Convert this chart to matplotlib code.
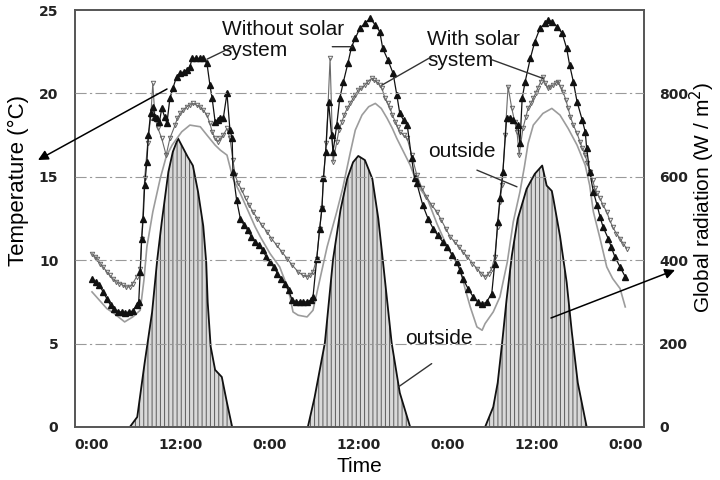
import matplotlib
matplotlib.use("Agg")
import matplotlib.pyplot as plt

# ---------------- data (hours from start) -------------
hours_without = [0.0, 0.5, 1.0, 1.5, 2.0, 2.5, 3.0, 3.5, 4.0, 4.5, 5.0, 5.5, 6.0, 6.3, 6.5, 6.7,
                 6.9, 7.1, 7.4, 7.6, 7.9, 8.2, 8.5, 8.8, 9.1, 9.4, 9.8, 10.1, 10.5, 10.9, 11.4,
                 11.9, 12.4, 12.8, 13.2, 13.5, 14.0, 14.5, 15.0, 15.5, 15.9, 16.2, 16.6, 17.0,
                 17.3, 17.7, 18.2, 18.6, 18.9, 19.0, 19.5, 20.0, 20.5, 21.0, 21.5, 22.0, 22.5,
                 23.0, 23.5, 24.0, 24.5, 25.0, 25.5, 26.0, 26.5, 27.0, 27.5, 28.0, 28.5, 29.0,
                 29.5, 29.8, 30.3, 30.7, 31.0, 31.2, 31.5, 31.9, 32.3, 32.5, 33.0, 33.4, 33.9,
                 34.5, 35.0, 35.5, 36.1, 36.8, 37.5, 38.2, 38.8, 39.2, 39.9, 40.6, 41.1, 41.5,
                 42.0, 42.5, 43.1, 43.5, 43.8, 44.6, 45.3, 46.0, 46.6, 47.3, 47.9, 48.6, 49.2,
                 49.6, 50.0, 50.7, 51.4, 52.0, 52.6, 53.2, 53.9, 54.3, 54.7, 55.0, 55.4, 55.9,
                 56.3, 56.8, 57.4, 57.7, 58.0, 58.4, 59.1, 59.7, 60.4, 61.1, 61.5, 62.0, 62.7,
                 63.4, 64.0, 64.4, 64.9, 65.4, 66.1, 66.5, 66.7, 67.1, 67.6, 68.1, 68.5, 68.9,
                 69.6, 70.0, 70.5, 71.2, 71.9]
temp_without = [8.9, 8.7, 8.5, 8.1, 7.7, 7.3, 7.1, 6.9, 6.9, 6.85, 6.9, 6.95, 7.3, 7.5, 9.3, 11.3,
                12.5, 14.5, 15.9, 17.5, 18.8, 19.2, 18.6, 18.5, 18.3, 19.1, 18.6, 18.2, 19.7, 20.3,
                21.0, 21.2, 21.3, 21.4, 21.6, 22.1, 22.1, 22.1, 22.1, 21.8, 20.5, 19.7, 18.3, 18.4,
                18.5, 18.5, 20.0, 17.8, 17.3, 15.3, 13.6, 12.5, 12.1, 11.8, 11.4, 11.1, 10.9, 10.6,
                10.2, 9.9, 9.6, 9.2, 8.9, 8.6, 8.2, 7.6, 7.5, 7.5, 7.5, 7.5, 7.6, 7.8, 10.1, 11.9,
                13.1, 14.9, 16.5, 19.5, 17.5, 16.5, 18.1, 19.7, 20.7, 21.8, 22.8, 23.3, 23.9, 24.2,
                24.5, 24.1, 23.7, 22.7, 22.0, 21.2, 19.9, 18.8, 18.4, 18.1, 16.1, 14.9, 14.6, 13.3,
                12.5, 11.9, 11.5, 11.1, 10.8, 10.3, 9.9, 9.4, 8.9, 8.3, 7.8, 7.5, 7.35, 7.5, 8.0,
                9.8, 12.3, 13.7, 15.3, 18.5, 18.5, 18.4, 18.1, 17.0, 19.7, 20.7, 22.1, 23.1, 23.9,
                24.2, 24.4, 24.3, 24.0, 23.6, 22.7, 21.7, 20.7, 19.5, 18.4, 17.7, 16.7, 15.3, 14.1,
                13.3, 12.6, 12.0, 11.3, 10.8, 10.2, 9.6, 9.0]

hours_with = [0.0, 0.4, 0.7, 1.1, 1.5, 2.0, 2.4, 2.8, 3.3, 3.7, 4.2, 4.6, 5.1, 5.5, 6.0, 6.5, 6.7,
              7.1, 7.5, 7.9, 8.2, 8.5, 8.9, 9.4, 10.0, 10.5, 11.2, 11.5, 11.9, 12.3, 12.8, 13.2,
              13.6, 14.1, 14.6, 15.0, 15.5, 15.9, 16.2, 16.6, 17.0, 17.3, 17.7, 18.2, 18.6, 19.0,
              19.3, 19.7, 20.2, 20.7, 21.2, 21.7, 22.3, 22.9, 23.6, 24.2, 24.9, 25.6, 26.3, 27.0,
              27.8, 28.4, 29.0, 29.4, 29.8, 30.3, 30.7, 31.0, 31.2, 31.6, 32.1, 32.5, 33.0, 33.3,
              33.7, 34.0, 34.4, 34.8, 35.2, 35.5, 35.9, 36.3, 36.8, 37.2, 37.7, 38.0, 38.4, 38.8,
              39.1, 39.5, 39.9, 40.2, 40.5, 40.9, 41.2, 41.5, 42.0, 42.5, 43.1, 43.8, 44.5, 45.1,
              45.8, 46.5, 47.1, 47.7, 48.3, 48.9, 49.5, 50.0, 50.6, 51.3, 51.9, 52.5, 53.0, 53.5,
              53.9, 54.3, 54.7, 55.0, 55.3, 55.7, 56.1, 56.6, 57.0, 57.3, 57.6, 58.1, 58.5, 58.8,
              59.2, 59.5, 59.8, 60.1, 60.5, 60.8, 61.1, 61.5, 61.8, 62.2, 62.5, 62.8, 63.2, 63.5,
              63.9, 64.2, 64.5, 64.9, 65.4, 65.8, 66.1, 66.5, 66.8, 67.1, 67.5, 67.8, 68.1, 68.5,
              68.9, 69.4, 69.8, 70.2, 70.7, 71.2, 71.6, 72.1]
temp_with = [10.4, 10.2, 10.1, 9.8, 9.6, 9.3, 9.1, 8.9, 8.7, 8.6, 8.5, 8.4, 8.4, 8.6, 9.0, 9.5, 11.3,
             14.9, 17.0, 18.5, 20.6, 18.5, 17.9, 17.3, 16.3, 17.3, 18.1, 18.5, 18.8, 19.0, 19.2,
             19.3, 19.4, 19.3, 19.2, 19.0, 18.7, 18.2, 17.7, 17.3, 17.1, 17.3, 17.5, 17.9, 17.3,
             16.0, 15.1, 14.6, 14.2, 13.7, 13.3, 12.9, 12.5, 12.1, 11.7, 11.3, 10.9, 10.5, 10.1,
             9.7, 9.3, 9.1, 9.0, 9.1, 9.3, 10.1, 11.9, 13.1, 14.9, 17.0, 22.1, 15.9, 17.1, 17.8,
             18.3, 18.7, 19.1, 19.4, 19.7, 19.9, 20.2, 20.3, 20.5, 20.7, 20.9, 20.8, 20.7, 20.5,
             20.3, 19.7, 19.4, 19.1, 18.7, 18.3, 18.0, 17.7, 17.5, 17.3, 16.3, 15.1, 14.3, 13.8,
             13.3, 12.9, 12.4, 11.9, 11.4, 11.1, 10.8, 10.5, 10.2, 9.8, 9.5, 9.2, 9.0, 9.2, 9.5,
             10.2, 12.0, 13.5, 14.5, 17.5, 20.4, 19.1, 18.3, 17.7, 16.3, 17.9, 18.6, 19.1, 19.4,
             19.7, 20.0, 20.3, 20.7, 21.0, 20.6, 20.3, 20.4, 20.5, 20.6, 20.7, 20.4, 20.1, 19.6,
             19.1, 18.6, 18.1, 17.6, 17.1, 16.7, 16.3, 15.8, 15.3, 14.8, 14.3, 14.0, 13.7, 13.3,
             12.9, 12.4, 12.0, 11.6, 11.3, 11.0, 10.7]

hours_outside = [0.0, 1.0, 2.0, 3.0, 4.4, 5.5, 6.5, 7.0, 7.4, 8.2, 9.2, 10.0, 10.8, 12.1, 13.2,
                 14.6, 15.5, 16.6, 17.3, 18.2, 19.0, 20.0, 21.0, 22.0, 22.7, 24.0, 25.3, 26.0,
                 26.7, 27.1, 27.8, 29.0, 29.8, 30.8, 31.7, 33.0, 33.8, 34.8, 35.5, 36.4, 37.3,
                 38.2, 39.0, 39.8, 40.5, 41.1, 42.0, 42.9, 43.5, 44.2, 45.2, 46.5, 47.9, 48.8,
                 49.6, 50.3, 51.0, 51.9, 52.6, 53.0, 54.1, 55.0, 56.0, 56.8, 57.7, 58.3, 58.8,
                 59.5, 60.8, 62.0, 63.1, 64.2, 65.4, 66.5, 67.1, 67.6, 68.5, 69.4, 70.2, 71.2,
                 71.9]
temp_outside = [8.1, 7.6, 7.1, 6.8, 6.3, 6.6, 7.0, 8.8, 10.8, 12.9, 14.9, 16.2, 16.9, 17.7, 18.1,
                18.0, 17.5, 16.9, 16.6, 16.3, 14.9, 14.0, 13.0, 12.0, 11.4, 10.4, 9.6, 8.8, 7.8,
                6.9, 6.7, 6.6, 7.0, 9.0, 10.8, 12.9, 14.3, 16.4, 17.8, 18.7, 19.2, 19.4, 19.1,
                18.5, 17.9, 17.3, 16.5, 15.7, 15.0, 14.3, 13.7, 12.2, 10.8, 10.1, 9.5, 8.3, 7.2,
                6.0, 5.8, 6.2, 6.9, 7.8, 9.9, 12.3, 14.1, 15.6, 17.0, 18.1, 18.8, 19.1, 18.7,
                17.9, 16.9, 15.7, 14.5, 12.9, 11.3, 9.6, 8.9, 8.3, 7.2]

hours_rad = [5.1, 6.1, 7.1, 8.1, 8.8, 9.4, 10.3, 10.9, 11.6, 12.9, 13.6, 14.3, 15.0, 15.4, 15.6,
             16.0, 16.6, 17.5, 18.2, 18.9,
             29.1, 30.0, 31.4, 32.5, 33.5, 34.4, 35.2, 35.9, 36.8, 37.8, 38.6, 39.2, 40.4, 41.5,
             42.9,
             53.0, 54.1, 54.7, 55.3, 55.9, 56.6, 57.4, 58.6, 59.7, 60.7, 61.3, 62.0, 62.2, 63.1,
             64.0, 64.7, 65.5, 66.7]
radiation = [0, 24, 154, 275, 402, 491, 612, 660, 692, 648, 627, 564, 482, 395, 299, 193, 137,
             120, 58, 0,
             0, 70, 202, 402, 520, 595, 635, 650, 640, 595, 500, 402, 202, 82, 0,
             0, 48, 106, 202, 306, 410, 499, 571, 607, 627, 579, 566, 548, 458, 347, 227, 106, 0]

tick_hours = [0, 12, 24, 36, 48, 60, 72]
tick_labels = ["0:00", "12:00", "0:00", "12:00", "0:00", "12:00", "0:00"]
temp_ticks = [0, 5, 10, 15, 20, 25]
rad_ticks = [0, 200, 400, 600, 800]

# ---------------- figure -------------------------------------------------------------
plt.rcParams['font.family'] = ['Liberation Sans', 'DejaVu Sans']
plt.rcParams['hatch.linewidth'] = 0.7
fig = plt.figure(figsize=(7.2, 4.8), dpi=100)
ax = fig.add_axes([75 / 720, 1 - 427 / 480, (644 - 75) / 720, (427 - 10) / 480])
ax2 = ax.twinx()
ax.set_zorder(ax2.get_zorder() + 1)
ax.patch.set_visible(False)

ax2.fill_between(hours_rad, radiation, 0, facecolor='#d9d9d9', edgecolor='#5a5a5a',
                 hatch='||||', linewidth=0)
ax2.plot(hours_rad, radiation, color='#111111', lw=1.3)

ax.plot(hours_outside, temp_outside, color='#9c9c9c', lw=1.2)
ax.plot(hours_with, temp_with, color='#6a6a6a', lw=0.8, marker='v', ms=3.2,
        markerfacecolor='none', markeredgecolor='#666666', markeredgewidth=0.7)
ax.plot(hours_without, temp_without, color='#111111', lw=0.9, marker='^', ms=4.2,
        markerfacecolor='#111111', markeredgecolor='#111111')

xmin = -17 / (534 / 72)
xmax = 72 + 18 / (534 / 72)
ax.set_xlim(xmin, xmax)
ax.set_ylim(0, 25)
ax2.set_ylim(0, 1000)

ax.set_xticks(tick_hours)
ax.set_xticklabels(tick_labels)
ax.set_yticks(temp_ticks)
ax2.set_yticks(rad_ticks)

for lab in ax.get_xticklabels() + ax.get_yticklabels() + ax2.get_yticklabels():
    lab.set_fontfamily('DejaVu Sans')
    lab.set_fontweight('bold')
    lab.set_fontsize(10)
    lab.set_color('#222222')
ax.tick_params(axis='x', length=0, pad=8)
ax.tick_params(axis='y', length=0, pad=12)
ax2.tick_params(axis='y', length=0, pad=11)

ax.yaxis.grid(True, color='#9a9a9a', lw=0.8, linestyle=(0, (10, 3, 2, 3)))
ax.set_axisbelow(False)
ygrid = ax.get_ygridlines()
ygrid[0].set_visible(False)
ygrid[-1].set_visible(False)
for a in (ax, ax2):
    for s in a.spines.values():
        s.set_color('#555555')
        s.set_linewidth(1.2)

ax.set_xlabel('Time', fontsize=15)
ax.xaxis.set_label_coords(0.5, -0.072)
ax.set_ylabel('Temperature (°C)', fontsize=16)
ax.yaxis.set_label_coords(-0.08, 0.59)
ax2.set_ylabel('Global radiation (W / m$^2$)', fontsize=15)
ax2.yaxis.set_label_coords(1.077, 0.55)

# ---------------- annotations ---------------------------------------------------------
txt = dict(fontsize=15, color='#111111', ha='left', va='top', linespacing=1.1)
ax.text(17.5, 24.4, 'Without solar\nsystem', **txt)
ax.text(45.2, 23.8, 'With solar\nsystem', **txt)
ax.text(45.3, 17.1, 'outside', **txt)
ax.text(42.2, 5.9, 'outside', **txt)

lead = dict(arrowstyle='-', color='#333333', lw=1.0, shrinkA=0, shrinkB=0)
for (x0, y0), (x1, y1) in [((15.5, 22.05), (19.0, 22.8)),
                           ((32.4, 22.8), (35.1, 22.8)),
                           ((45.8, 22.2), (39.1, 20.5)),
                           ((53.7, 22.05), (60.8, 20.9)),
                           ((51.9, 15.4), (57.3, 14.4)),
                           ((45.8, 3.8), (41.3, 2.4))]:
    ax.annotate('', xy=(x1, y1), xytext=(x0, y0), arrowprops=lead)

arr = dict(arrowstyle='-|>', color='black', lw=1.1, mutation_scale=15, shrinkA=0, shrinkB=0)
ax.annotate('', xy=(38 / 720, 1 - 160 / 480), xytext=(167 / 720, 1 - 89 / 480),
            xycoords='figure fraction', textcoords='figure fraction', arrowprops=arr,
            annotation_clip=False)
ax.annotate('', xy=(675 / 720, 1 - 270 / 480), xytext=(551 / 720, 1 - 318 / 480),
            xycoords='figure fraction', textcoords='figure fraction', arrowprops=arr,
            annotation_clip=False)

fig.savefig('out.png', dpi=100)
